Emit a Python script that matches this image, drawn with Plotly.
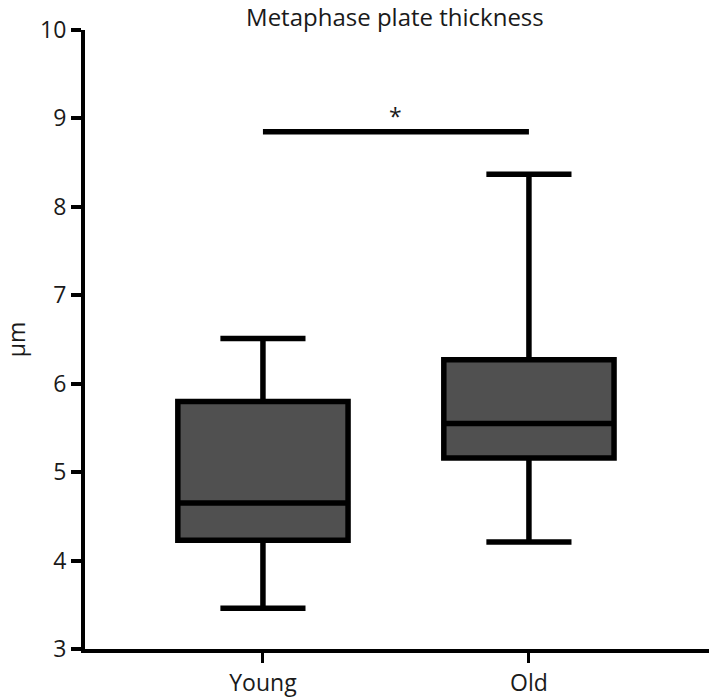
import plotly.graph_objects as go

categories = ["Young", "Old"]
lower_whisker = [3.46, 4.21]
q1_values = [4.23, 5.16]
median_values = [4.65, 5.55]
q3_values = [5.80, 6.27]
upper_whisker = [6.51, 8.37]
y_ticks = [3, 4, 5, 6, 7, 8, 9, 10]
sig_level = 8.85
sig_label = "*"

FONT = "Open Sans"
TXT = "#1a1a1a"

fig = go.Figure()
fig.add_trace(go.Box(
    x=categories,
    lowerfence=lower_whisker,
    q1=q1_values,
    median=median_values,
    q3=q3_values,
    upperfence=upper_whisker,
    fillcolor="#505050",
    line=dict(color="black", width=5.5),
    whiskerwidth=0.5,
    width=0.64,
    boxpoints=False,
    showlegend=False,
    hoverinfo="skip",
))

fig.add_trace(go.Scatter(
    x=categories,
    y=[sig_level, sig_level],
    mode="lines",
    line=dict(color="black", width=5.5),
    showlegend=False,
    hoverinfo="skip",
))

fig.add_annotation(
    x=0.5, y=sig_level, xref="x", yref="y",
    text=sig_label, showarrow=False,
    yshift=16, font=dict(family=FONT, size=23, color=TXT),
)

fig.update_layout(
    width=709, height=698,
    margin=dict(l=85, r=0, t=30, b=47),
    paper_bgcolor="white", plot_bgcolor="white",
    font=dict(family=FONT, size=23, color=TXT),
    title=dict(text="Metaphase plate thickness", x=0.557, xanchor="center",
               y=0.975, yanchor="middle",
               font=dict(family=FONT, size=24, color=TXT)),
)

fig.update_xaxes(
    type="category",
    range=[-0.669, 1.677],
    showline=True, linecolor="black", linewidth=4,
    ticks="outside", ticklen=10, tickwidth=3, tickcolor="black",
    showgrid=False, zeroline=False,
    tickfont=dict(family=FONT, size=23, color=TXT),
)

fig.update_yaxes(
    range=[3, 10],
    tickvals=y_ticks,
    showline=True, linecolor="black", linewidth=4,
    ticks="outside", ticklen=10, tickwidth=4, tickcolor="black",
    showgrid=False, zeroline=False,
    tickfont=dict(family=FONT, size=23, color=TXT),
    title=dict(text="µm", font=dict(family=FONT, size=23, color=TXT), standoff=12),
)

fig.write_html("out.html", config={"displayModeBar": False},
               post_script="document.body.style.margin='0';")
